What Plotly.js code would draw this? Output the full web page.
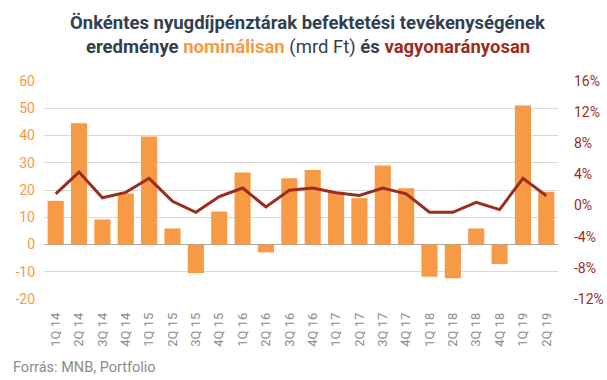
<!DOCTYPE html>
<html>
<head>
<meta charset="utf-8">
<script src="https://cdn.plot.ly/plotly-3.0.1.min.js"></script>
<style>html,body{margin:0;padding:0;background:#fff;}#chart{width:607px;height:380px;}</style>
</head>
<body>
<div id="chart"></div>
<script>
const categories = ["1Q 14","2Q 14","3Q 14","4Q 14","1Q 15","2Q 15","3Q 15","4Q 15","1Q 16","2Q 16","3Q 16","4Q 16","1Q 17","2Q 17","3Q 17","4Q 17","1Q 18","2Q 18","3Q 18","4Q 18","1Q 19","2Q 19"];
const nominal = [16, 44.5, 9.2, 18.7, 39.6, 5.9, -10.5, 12.1, 26.4, -2.9, 24.3, 27.3, 19.4, 17, 29, 20.6, -11.8, -12.4, 5.9, -7.2, 51, 19.4];
const ratio = [1.5, 4.3, 1.0, 1.7, 3.5, 0.55, -0.86, 1.15, 2.26, -0.18, 1.96, 2.26, 1.66, 1.3, 2.26, 1.5, -0.86, -0.86, 0.42, -0.52, 3.5, 1.27];
const leftTicks = [-20, -10, 0, 10, 20, 30, 40, 50, 60];
const rightTicks = [-12, -8, -4, 0, 4, 8, 12, 16];

const orange = "#F79A45";
const darkred = "#9B2D1F";
const titleColor = "#333f4f";

const data = [
  {type: "bar", x: categories, y: nominal, marker: {color: orange}, yaxis: "y", hoverinfo: "none"},
  {type: "scatter", mode: "lines", x: categories, y: ratio, yaxis: "y2", line: {color: darkred, width: 3}, hoverinfo: "none"}
];

const plotH = 218, plotBottom = 299, plotLeft = 44, plotW = 514;
const py = pix => (plotBottom - pix) / plotH;
const px = pix => (pix - plotLeft) / plotW;

const layout = {
  width: 607, height: 380,
  margin: {l: 44, r: 49, t: 81, b: 81},
  paper_bgcolor: "#fff", plot_bgcolor: "#fff",
  showlegend: false,
  bargap: 0.31,
  font: {family: "Roboto, sans-serif"},
  xaxis: {
    type: "category",
    tickangle: -90,
    tickfont: {size: 13, color: "#8c8c8c"},
    showgrid: false, showline: false, zeroline: false, ticks: "",
    ticklabelstandoff: 10
  },
  yaxis: {
    range: [-20, 60],
    tickvals: leftTicks,
    ticktext: leftTicks.map(String),
    tickfont: {size: 14, color: orange},
    showgrid: true, gridcolor: "#d9d9d9", gridwidth: 1,
    zeroline: true, zerolinecolor: "#a6a6a6", zerolinewidth: 1.5,
    showline: false, ticks: "", ticklabelstandoff: 8
  },
  yaxis2: {
    range: [-12, 16],
    overlaying: "y", side: "right",
    tickvals: rightTicks,
    ticktext: rightTicks.map(v => v + "%"),
    tickfont: {size: 14, color: darkred},
    showgrid: false, zeroline: false, showline: false, ticks: "",
    ticklabelstandoff: 15
  },
  annotations: [
    {
      text: "<b>Önkéntes nyugdíjpénztárak befektetési tevékenységének</b>",
      xref: "paper", yref: "paper", x: px(308), y: py(23),
      xanchor: "center", yanchor: "middle", showarrow: false,
      font: {family: "Roboto, sans-serif", size: 18.5, color: titleColor}
    },
    {
      text: "<b>eredménye </b><b><span style='color:" + orange + "'>nominálisan</span></b> (mrd Ft) <b>és </b><b><span style='color:" + darkred + "'>vagyonarányosan</span></b>",
      xref: "paper", yref: "paper", x: px(307.5), y: py(47),
      xanchor: "center", yanchor: "middle", showarrow: false,
      font: {family: "Roboto, sans-serif", size: 18.5, color: titleColor}
    },
    {
      text: "Forrás: MNB, Portfolio",
      xref: "paper", yref: "paper",
      x: px(11), y: py(367),
      xanchor: "left", yanchor: "middle",
      showarrow: false,
      font: {family: "Roboto, sans-serif", size: 14.5, color: "#8c8c8c"}
    }
  ]
};

Plotly.newPlot("chart", data, layout, {displayModeBar: false, staticPlot: true});
</script>
</body>
</html>
